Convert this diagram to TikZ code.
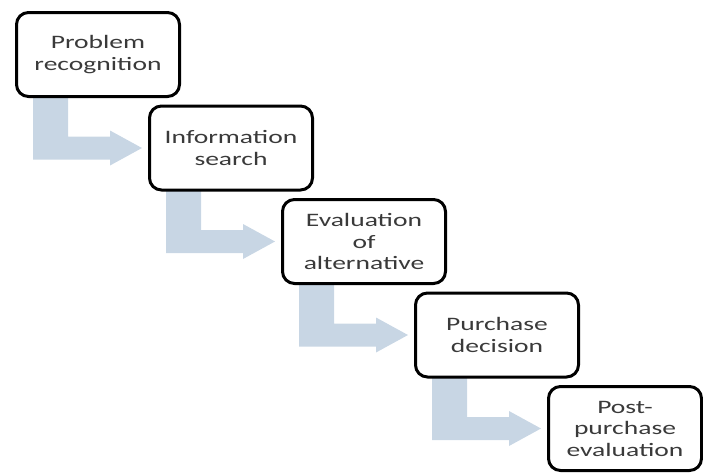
\documentclass[tikz,border=0pt]{standalone}
\usepackage{fontspec}
\setmainfont{Carlito}[FakeStretch=1.45]
\usetikzlibrary{positioning,calc,backgrounds}
\definecolor{flowblue}{RGB}{200,214,228}
\definecolor{textgray}{RGB}{58,58,58}

\begin{document}
\begin{tikzpicture}[x=1pt, y=-1pt, node distance=6.5pt and -33pt,
  stage/.style={draw=black, line width=3pt, rounded corners=12pt, fill=white, align=center, inner sep=2pt, minimum width=163pt, minimum height=84pt, font=\fontsize{19}{21.5}\selectfont, text=textgray},
  flow/.style={fill=flowblue}]
\useasboundingbox (0,0) rectangle (703,472);
\node[stage, anchor=north west] (prob) at (15,11) {Problem\\recognition};
\node[stage, below right=of prob] (info) {Information\\search};
\node[stage, below right=of info] (eval) {Evaluation\\of\\alternative};
\node[stage, below right=of eval] (purch) {Purchase\\decision};
\node[stage, below right=of purch, minimum width=153pt] (post) {Post-\\purchase\\evaluation};
% bent arrows behind the boxes
\begin{scope}[on background layer]
\foreach \a/\b in {prob/info, info/eval, eval/purch, purch/post}
  \fill[flow] ($(\a.south west)+(18,-2)$) |- ($(\b.west)+(-38,11.5)$) -- ++(0,6) -- ($(\b.west)+(-6,0)$)
    -- ($(\b.west)+(-38,-17.5)$) -- ++(0,6) -| ($(\a.south west)+(53,-2)$) -- cycle;
\end{scope}
\end{tikzpicture}
\end{document}
